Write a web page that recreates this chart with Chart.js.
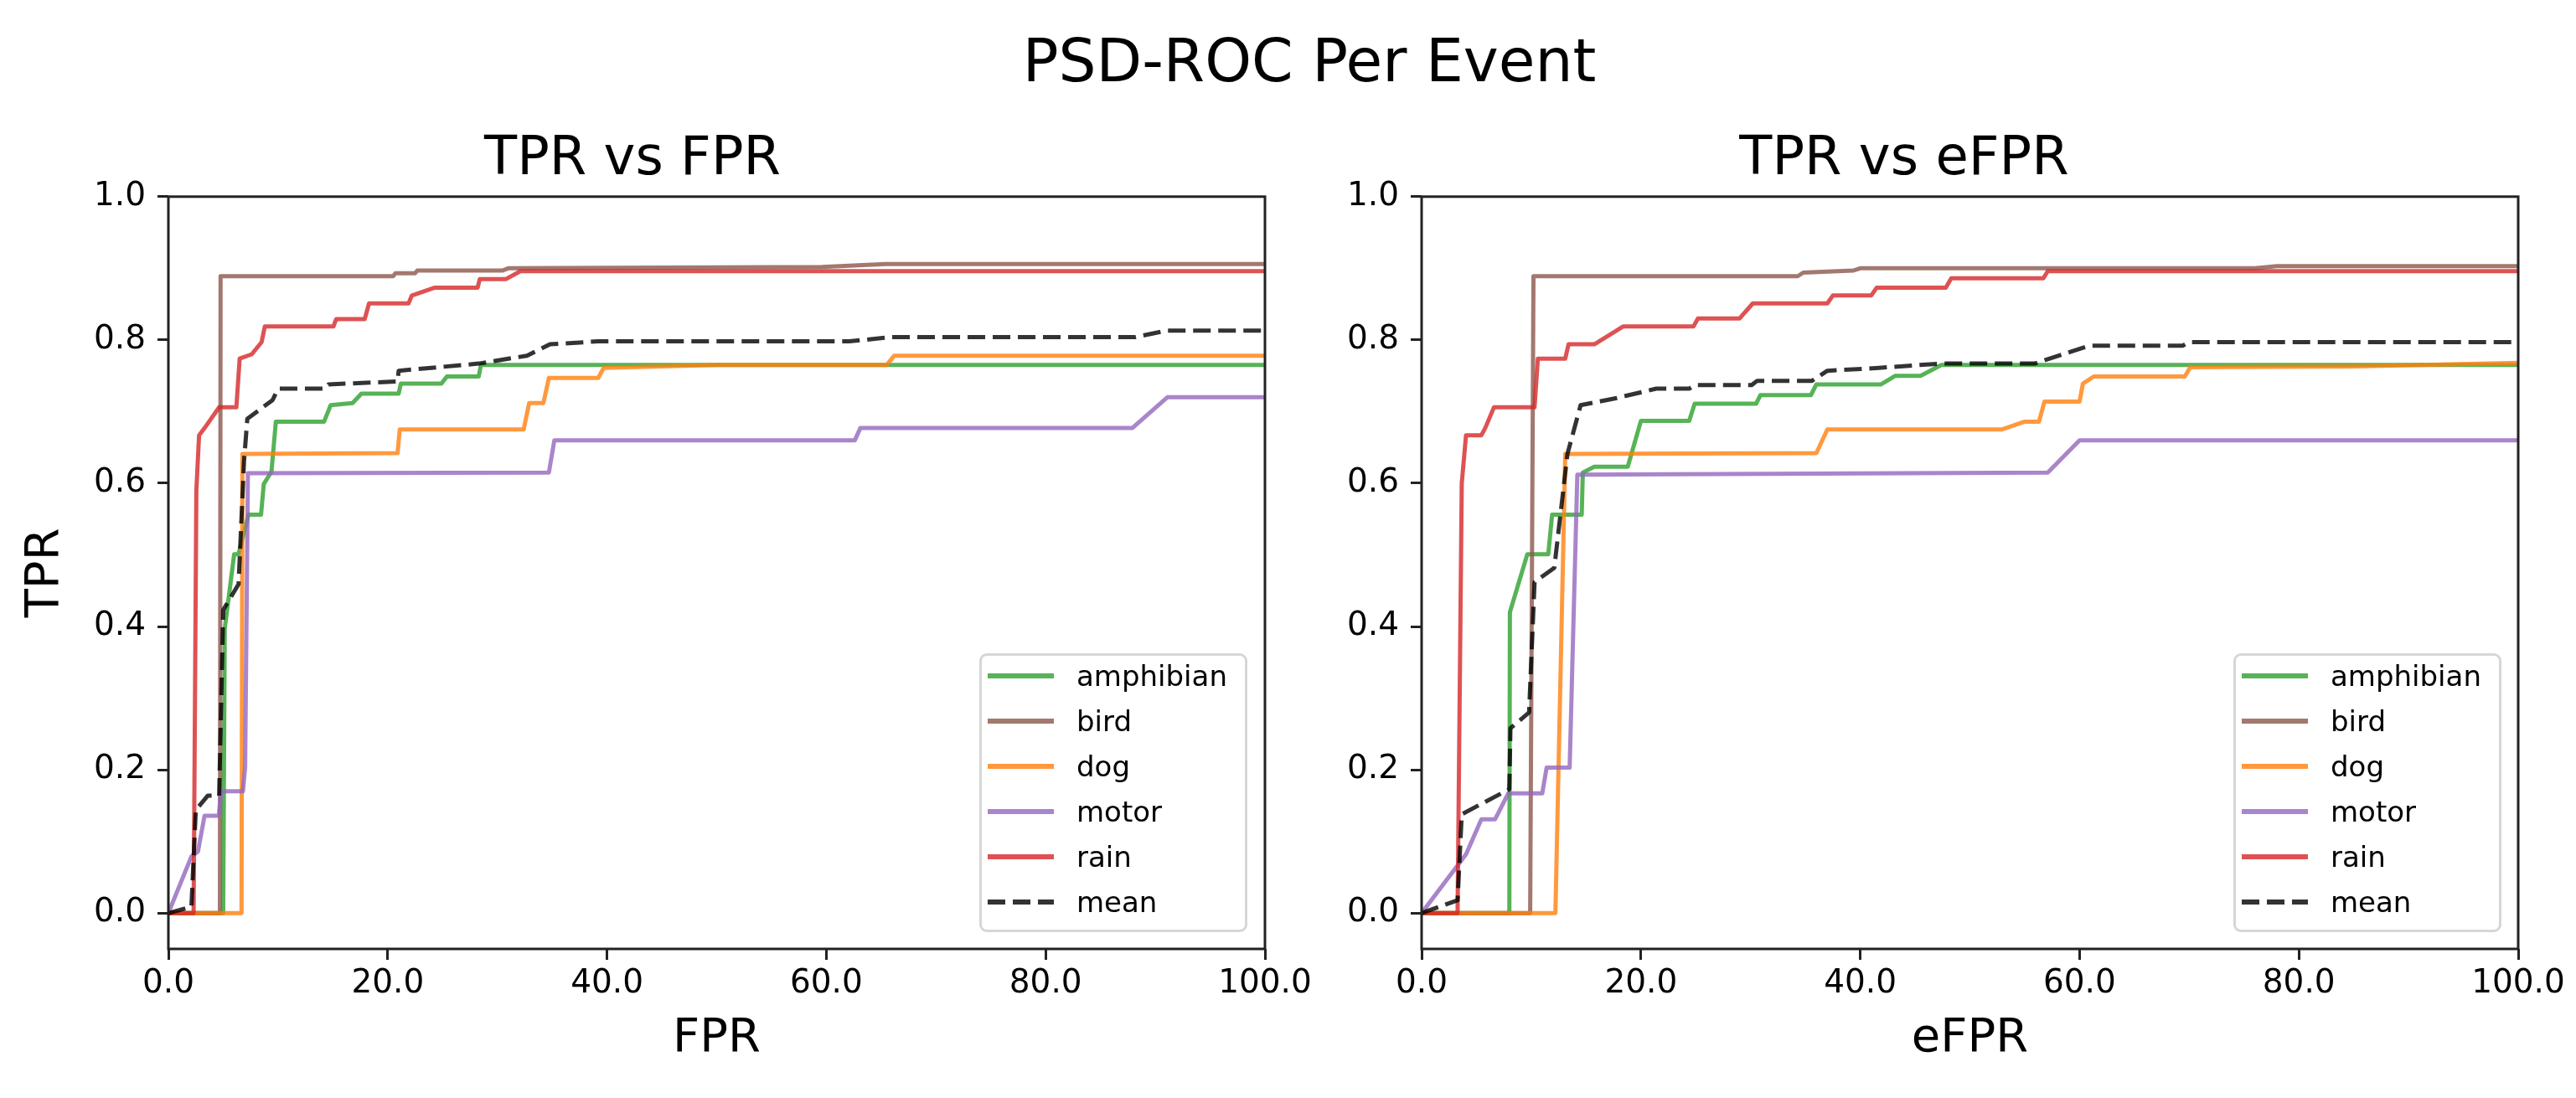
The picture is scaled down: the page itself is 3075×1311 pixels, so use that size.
<!DOCTYPE html>
<html>
<head>
<meta charset="utf-8">
<script src="https://cdn.jsdelivr.net/npm/chart.js@4.4.0/dist/chart.umd.min.js"></script>
<style>
  html, body { margin: 0; padding: 0; background: #fff; width: 3075px; height: 1311px; overflow: hidden; }
  canvas { position: absolute; }
  #suptitle { position: absolute; left: 1563px; top: 37px; transform: translateX(-50%);
    font-family: 'DejaVu Sans'; font-size: 71px; line-height: 1; white-space: nowrap; color: #000; }
  .legend { position: absolute; box-sizing: border-box; width: 320px; height: 333px;
    border: 3px solid #d6d6d6; border-radius: 9px; background: rgba(255,255,255,0.8); }
  .legend .row { position: absolute; left: 0; height: 54px; width: 300px; }
  .legend .sample { position: absolute; left: 7px; top: 24px; width: 79px; height: 6px; }
  .legend .txt { position: absolute; left: 113px; top: 0; height: 54px; line-height: 54px;
    font-family: 'DejaVu Sans'; font-size: 34px; color: #000; white-space: nowrap; }
</style>
</head>
<body>
<div id="suptitle">PSD-ROC Per Event</div>
<canvas id="cFPR" width="1600" height="1191" style="left:0px; top:120px;"></canvas>
<canvas id="cEFPR" width="1535" height="1191" style="left:1540px; top:120px;"></canvas>
<script>
// ---------- data ----------
const eventLabels = ['amphibian', 'bird', 'dog', 'motor', 'rain', 'mean'];
const xTickValues = [0, 20, 40, 60, 80, 100];
const yTickValues = [0.0, 0.2, 0.4, 0.6, 0.8, 1.0];

// TPR vs FPR  ([FPR, TPR] points)
const fprAmphibian = [[0,0],[5.0,0],[5.14,0.397],[6.0,0.501],[6.4,0.501],[7.3,0.556],[8.45,0.556],[8.7,0.599],[9.4,0.616],[9.8,0.686],[14.2,0.686],[14.8,0.709],[16.8,0.712],[17.6,0.725],[21.0,0.725],[21.2,0.739],[24.9,0.739],[25.4,0.749],[28.3,0.749],[28.5,0.765],[100,0.765]];
const fprBird = [[0,0],[4.7,0],[4.76,0.889],[20.5,0.889],[20.7,0.893],[22.5,0.893],[22.7,0.897],[30.5,0.897],[31.0,0.900],[59.6,0.902],[65.4,0.906],[100,0.906]];
const fprDog = [[0,0],[6.67,0],[6.75,0.641],[20.9,0.642],[21.1,0.675],[32.4,0.675],[32.9,0.712],[34.2,0.712],[34.7,0.747],[39.2,0.747],[39.7,0.761],[50.0,0.765],[65.5,0.765],[66.2,0.778],[100,0.778]];
const fprMotor = [[0,0],[2.1,0.079],[2.7,0.086],[3.3,0.136],[4.6,0.136],[4.8,0.170],[6.8,0.170],[7.0,0.204],[7.25,0.614],[34.7,0.615],[35.2,0.660],[62.6,0.660],[63.1,0.677],[87.9,0.677],[91.1,0.720],[100,0.720]];
const fprRain = [[0,0],[2.3,0],[2.55,0.590],[2.8,0.667],[3.3,0.677],[4.63,0.706],[6.2,0.706],[6.5,0.774],[7.6,0.780],[8.5,0.797],[8.8,0.819],[15.06,0.819],[15.3,0.829],[17.9,0.829],[18.3,0.851],[21.9,0.851],[22.2,0.862],[24.3,0.873],[28.2,0.873],[28.4,0.885],[30.8,0.885],[32.1,0.896],[100,0.896]];
const fprMean = [[0,0],[2.1,0.009],[2.5,0.144],[3.6,0.164],[4.63,0.164],[5.0,0.423],[6.4,0.459],[6.9,0.631],[7.2,0.690],[9.5,0.716],[10.0,0.732],[14.3,0.732],[14.6,0.738],[20.9,0.742],[21.0,0.757],[28.3,0.767],[32.7,0.778],[34.8,0.794],[39.2,0.798],[62.1,0.798],[65.9,0.804],[88.2,0.804],[91.0,0.813],[100,0.813]];

// TPR vs eFPR  ([eFPR, TPR] points)
const efprAmphibian = [[0,0],[8.0,0],[8.05,0.420],[9.64,0.501],[11.55,0.501],[11.9,0.556],[14.6,0.556],[14.7,0.615],[15.75,0.623],[18.8,0.623],[20.0,0.687],[24.4,0.687],[24.9,0.711],[30.5,0.711],[30.9,0.723],[35.5,0.723],[36.0,0.738],[41.9,0.738],[43.2,0.750],[45.5,0.750],[47.4,0.765],[100,0.765]];
const efprBird = [[0,0],[9.9,0],[10.2,0.889],[34.3,0.889],[34.8,0.894],[39.4,0.897],[40.0,0.900],[76.0,0.900],[78.0,0.903],[100,0.903]];
const efprDog = [[0,0],[12.2,0],[13.1,0.641],[36.0,0.642],[37.0,0.675],[52.9,0.675],[55.0,0.686],[56.3,0.686],[56.8,0.714],[60.0,0.714],[60.3,0.739],[61.3,0.749],[69.6,0.749],[70.1,0.762],[85.0,0.763],[100,0.768]];
const efprMotor = [[0,0],[4.05,0.082],[5.45,0.131],[6.7,0.131],[7.9,0.167],[11.0,0.167],[11.4,0.203],[13.5,0.203],[14.2,0.612],[57.1,0.615],[60.0,0.660],[100,0.660]];
const efprRain = [[0,0],[3.28,0],[3.66,0.600],[4.05,0.667],[5.45,0.667],[5.8,0.677],[6.6,0.706],[10.3,0.706],[10.6,0.774],[13.1,0.774],[13.4,0.794],[15.75,0.794],[18.4,0.819],[24.8,0.819],[25.2,0.830],[29.0,0.830],[30.2,0.851],[37.0,0.851],[37.5,0.862],[41.0,0.862],[41.5,0.873],[47.8,0.873],[48.3,0.886],[56.7,0.886],[57.1,0.896],[100,0.896]];
const efprMean = [[0,0],[3.28,0.018],[3.66,0.138],[8.0,0.173],[8.1,0.258],[9.8,0.280],[10.3,0.462],[12.1,0.482],[13.3,0.641],[14.5,0.709],[17.8,0.719],[21.4,0.732],[24.4,0.732],[24.9,0.737],[30.1,0.737],[30.6,0.743],[35.6,0.743],[37.0,0.757],[41.7,0.761],[47.3,0.767],[55.9,0.767],[60.9,0.792],[69.4,0.792],[70.0,0.797],[100,0.797]];

// ---------- styles ----------
const FONT = 'DejaVu Sans';
const lineColors = ['rgba(44,160,44,0.8)', 'rgba(140,86,75,0.8)', 'rgba(255,127,14,0.8)',
                    'rgba(148,103,189,0.8)', 'rgba(214,39,40,0.8)', 'rgba(0,0,0,0.8)'];
const MEAN_DASH = [21, 9];

Chart.defaults.font.family = FONT;
Chart.defaults.color = '#000';

const framePlugin = {
  id: 'frame',
  afterDatasetsDraw(chart) {
    const {ctx, chartArea: a} = chart;
    ctx.save();
    ctx.strokeStyle = '#222';
    ctx.lineWidth = 3;
    ctx.strokeRect(a.left, a.top, a.right - a.left, a.bottom - a.top);
    ctx.restore();
  }
};

function makeChart(canvasId, series, opt) {
  const datasets = eventLabels.map((name, i) => ({
    label: name,
    data: series[i].map(p => ({x: p[0], y: p[1]})),
    borderColor: lineColors[i],
    backgroundColor: lineColors[i],
    borderWidth: 5,
    borderDash: name === 'mean' ? MEAN_DASH : [],
    borderJoinStyle: 'round',
    pointRadius: 0,
    tension: 0,
    fill: false,
    order: eventLabels.length - i
  }));
  const tickGrid = {display: true, drawOnChartArea: false, drawTicks: true,
                    tickLength: 13, tickWidth: 3, lineWidth: 3, tickColor: '#222', color: '#222'};
  return new Chart(document.getElementById(canvasId), {
    type: 'line',
    data: {datasets},
    options: {
      responsive: false,
      animation: false,
      devicePixelRatio: 1,
      layout: {autoPadding: false, padding: {left: 0, right: opt.padRight, top: 0, bottom: 0}},
      plugins: {
        legend: {display: false},
        tooltip: {enabled: false},
        title: {display: true, text: opt.title, color: '#000',
                font: {family: FONT, size: 64, weight: 'normal'},
                padding: {top: 33, bottom: 5}}
      },
      scales: {
        x: {
          type: 'linear', min: 0, max: 100,
          afterBuildTicks: ax => { ax.ticks = xTickValues.map(v => ({value: v})); },
          afterFit: s => { s.height = 178; },
          ticks: {callback: v => Number(v).toFixed(1), font: {family: FONT, size: 39}, color: '#000',
                  padding: 5, maxRotation: 0, minRotation: 0, autoSkip: false},
          grid: tickGrid,
          border: {display: false},
          title: {display: true, text: opt.xTitle, color: '#000',
                  font: {family: FONT, size: 56}, padding: {top: 0, bottom: 37}}
        },
        y: {
          type: 'linear', min: -0.05, max: 1.0,
          afterBuildTicks: ax => { ax.ticks = yTickValues.map(v => ({value: v})); },
          afterFit: s => { s.width = opt.yWidth; },
          ticks: {callback: v => Number(v).toFixed(1), font: {family: FONT, size: 39}, color: '#000',
                  padding: 14, autoSkip: false},
          grid: tickGrid,
          border: {display: false},
          title: {display: !!opt.yTitle, text: opt.yTitle || '', color: '#000',
                  font: {family: FONT, size: 56}, padding: {top: 21, bottom: 0}}
        }
      }
    },
    plugins: [framePlugin]
  });
}

function makeLegend(chart, left, top) {
  const box = document.createElement('div');
  box.className = 'legend';
  box.style.left = left + 'px';
  box.style.top = top + 'px';
  chart.data.datasets.forEach((ds, i) => {
    const row = document.createElement('div');
    row.className = 'row';
    row.style.top = (-3 + i * 54) + 'px';
    const sample = document.createElement('div');
    sample.className = 'sample';
    if (ds.borderDash && ds.borderDash.length) {
      const d = ds.borderDash[0], g = ds.borderDash[1];
      sample.style.background = `repeating-linear-gradient(to right, ${ds.borderColor} 0px, ${ds.borderColor} ${d}px, transparent ${d}px, transparent ${d + g}px)`;
    } else {
      sample.style.background = ds.borderColor;
    }
    const txt = document.createElement('div');
    txt.className = 'txt';
    txt.textContent = ds.label;
    row.appendChild(sample);
    row.appendChild(txt);
    box.appendChild(row);
  });
  document.body.appendChild(box);
}

const chartFPR = makeChart('cFPR',
  [fprAmphibian, fprBird, fprDog, fprMotor, fprRain, fprMean],
  {title: 'TPR vs FPR', xTitle: 'FPR', yTitle: 'TPR', padRight: 90, yWidth: 201});
const chartEFPR = makeChart('cEFPR',
  [efprAmphibian, efprBird, efprDog, efprMotor, efprRain, efprMean],
  {title: 'TPR vs eFPR', xTitle: 'eFPR', yTitle: '', padRight: 69, yWidth: 157});

makeLegend(chartFPR, 1169, 780);
makeLegend(chartEFPR, 2666, 780);
</script>
</body>
</html>
